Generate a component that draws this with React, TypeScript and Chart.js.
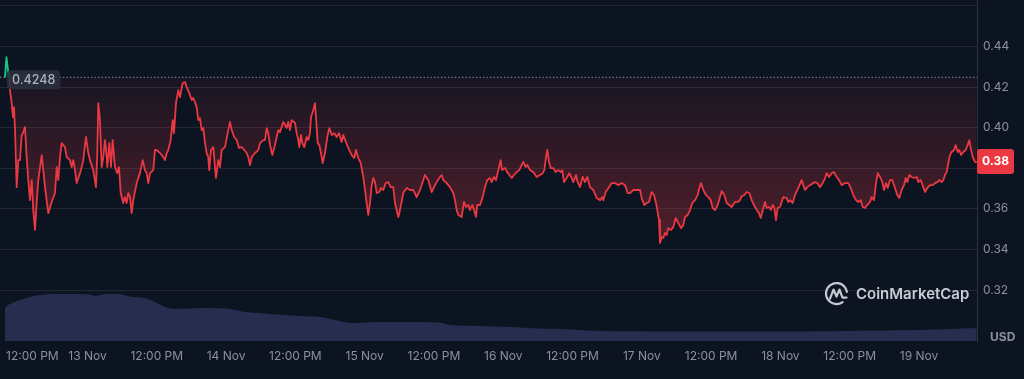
import React, { useEffect, useRef } from "react";
import { Chart, registerables } from "chart.js";

Chart.register(...registerables);

// ---- data (hours relative to 13 Nov 00:00) ----
const openPrice = 0.4248;

const hours = [
  -14.29, -14.03, -13.77, -13.51, -13.42, -13.13, -12.9, -12.73, -12.56, -12.26,
  -11.98, -11.69, -11.4, -11.17, -10.82, -10.53, -10.25, -9.96, -9.66, -9.39,
  -9.09, -8.8, -8.52, -7.93, -7.65, -7.36, -6.79, -6.2, -5.63, -5.33,
  -5.06, -4.76, -4.47, -3.9, -3.6, -3.03, -2.74, -2.46, -2.16, -1.87,
  -1.3, -1.0, -0.73, -0.26, 0.14, 0.43, 1.0, 1.47, 1.7, 1.87,
  2.16, 2.46, 2.74, 3.03, 3.33, 3.43, 3.78, 4.07, 4.36, 4.76,
  5.16, 5.46, 5.75, 6.2, 6.49, 6.79, 7.07, 7.36, 7.65, 7.93,
  8.52, 9.09, 9.56, 9.96, 10.25, 10.53, 10.82, 11.4, 11.69, 11.98,
  12.56, 13.13, 13.42, 13.72, 13.99, 14.41, 14.76, 14.98, 15.33, 15.73,
  16.02, 16.49, 16.89, 17.18, 17.63, 18.05, 18.32, 18.62, 18.91, 19.19,
  19.48, 19.78, 20.06, 20.35, 20.64, 20.92, 21.09, 21.39, 21.79, 22.08,
  22.25, 22.65, 22.95, 23.24, 23.81, 24.28, 24.68, 24.97, 25.42, 25.84,
  26.24, 26.71, 27.16, 27.57, 27.85, 28.14, 28.44, 29.01, 29.58, 29.88,
  30.45, 30.74, 31.04, 31.31, 31.61, 32.01, 32.47, 32.77, 33.04, 33.34,
  33.91, 34.2, 34.5, 34.78, 35.07, 35.37, 35.94, 36.23, 36.51, 36.68,
  36.98, 37.2, 37.55, 37.96, 38.24, 38.53, 38.71, 39.11, 39.4, 39.57,
  39.87, 40.15, 40.44, 40.73, 41.13, 41.53, 41.88, 42.29, 42.74, 43.16,
  43.56, 44.02, 44.3, 44.77, 45.17, 45.76, 46.21, 46.5, 46.9, 47.32,
  47.77, 48.06, 48.35, 48.63, 48.93, 49.22, 49.5, 49.79, 50.09, 50.54,
  50.83, 51.23, 51.64, 52.1, 52.51, 52.96, 53.26, 53.83, 54.12, 54.69,
  55.28, 55.85, 56.42, 57.01, 57.59, 58.16, 58.45, 59.02, 59.61, 60.01,
  60.48, 61.05, 61.34, 61.62, 62.21, 62.78, 63.35, 63.65, 63.94, 64.22,
  64.81, 65.21, 65.55, 65.95, 66.24, 66.64, 66.94, 67.28, 67.51, 67.98,
  68.44, 68.84, 69.24, 69.71, 70.0, 70.4, 70.75, 71.15, 71.56, 71.79,
  72.31, 72.7, 73.05, 73.47, 73.86, 74.33, 74.78, 75.2, 75.48, 75.89,
  76.17, 76.64, 77.21, 77.8, 78.37, 78.84, 79.11, 79.41, 79.63, 79.93,
  80.22, 80.67, 81.09, 81.54, 81.95, 82.23, 82.53, 82.99, 83.44, 83.86,
  84.13, 84.6, 84.9, 85.3, 85.76, 86.16, 86.56, 87.03, 87.6, 88.19,
  88.76, 89.16, 89.33, 89.75, 90.32, 90.79, 91.36, 91.93, 92.52, 93.09,
  93.56, 93.96, 94.53, 95.12, 95.69, 95.98, 96.43, 96.85, 97.25, 97.71,
  98.11, 98.46, 98.75, 98.98, 99.15, 99.45, 99.72, 100.02, 100.31, 100.59,
  101.06, 101.45, 101.87, 102.32, 102.79, 103.19, 103.48, 103.95, 104.35, 104.75,
  105.21, 105.68, 105.96, 106.25, 106.48, 106.82, 107.12, 107.52, 107.93, 108.28,
  108.68, 109.14, 109.54, 109.84, 110.29, 110.7, 111.15, 111.57, 112.14, 112.61,
  113.01, 113.3, 113.75, 114.17, 114.62, 115.03, 115.43, 115.9, 116.3, 116.59,
  116.87, 117.34, 117.63, 118.03, 118.38, 118.67, 118.95, 119.24, 119.53, 119.93,
  120.5, 121.09, 121.37, 121.67, 122.13, 122.53, 123.1, 123.69, 123.97, 124.26,
  124.66, 125.13, 125.7, 125.99, 126.39, 126.86, 127.33, 127.73, 128.02, 128.42,
  128.89, 129.28, 129.75, 130.15, 130.62, 131.19, 131.76, 132.18, 132.63, 133.1,
  133.49, 133.91, 134.26, 134.65, 135.05, 135.52, 135.81, 136.21, 136.56, 136.86,
  137.25, 137.65, 137.94, 138.29, 138.59, 138.98, 139.38, 139.85, 140.25, 140.59,
  141.01, 141.41, 141.7, 141.98, 142.33, 142.74, 143.14, 143.61, 143.89, 144.3,
  144.75, 145.05, 145.44, 145.91, 146.38, 146.78, 147.17, 147.52, 147.94, 148.22,
  148.51, 148.8, 149.08, 149.37, 149.67, 150.07, 150.36, 150.71, 150.99, 151.28,
  151.68, 152.09, 152.44, 152.72, 152.96, 153.31, 153.7, 154.0,
];

const prices = [
  0.4248, 0.4348, 0.4284, 0.4248, 0.4185, 0.4121, 0.4052, 0.4101, 0.4003, 0.3707,
  0.384, 0.384, 0.3964, 0.3973, 0.4003, 0.3855, 0.3742, 0.3643, 0.3742, 0.3594,
  0.3496, 0.3629, 0.3742, 0.3865, 0.3791, 0.3707, 0.3579, 0.3634, 0.3678, 0.3806,
  0.3742, 0.3855, 0.3924, 0.3904, 0.3855, 0.384, 0.3806, 0.384, 0.3791, 0.3727,
  0.3776, 0.3806, 0.384, 0.3954, 0.3875, 0.384, 0.3791, 0.3707, 0.3875, 0.4121,
  0.4037, 0.3806, 0.3855, 0.3939, 0.3855, 0.3806, 0.3924, 0.3806, 0.3939, 0.3806,
  0.3776, 0.3806, 0.3678, 0.3629, 0.3658, 0.3629, 0.3678, 0.3658, 0.3579, 0.3643,
  0.3727, 0.3776, 0.384, 0.3791, 0.3776, 0.3727, 0.3776, 0.3791, 0.389, 0.389,
  0.3875, 0.3855, 0.384, 0.3875, 0.389, 0.3939, 0.4037, 0.3973, 0.4121, 0.4185,
  0.4151, 0.422, 0.4225, 0.42, 0.417, 0.4136, 0.4146, 0.4126, 0.4101, 0.4037,
  0.4047, 0.3988, 0.3998, 0.3924, 0.3875, 0.3855, 0.3791, 0.389, 0.3904, 0.3806,
  0.3752, 0.384, 0.3806, 0.389, 0.3904, 0.3973, 0.4028, 0.3988, 0.3954, 0.3939,
  0.39, 0.3904, 0.389, 0.3875, 0.3855, 0.3816, 0.3855, 0.3875, 0.389, 0.3924,
  0.3939, 0.3939, 0.3998, 0.3973, 0.3914, 0.3865, 0.3914, 0.3954, 0.3988, 0.3978,
  0.4028, 0.4013, 0.3998, 0.4028, 0.3988, 0.4037, 0.4023, 0.3973, 0.3939, 0.3904,
  0.3964, 0.3924, 0.3904, 0.3954, 0.3939, 0.3973, 0.4052, 0.4087, 0.4121, 0.4052,
  0.3924, 0.3914, 0.3875, 0.3826, 0.3875, 0.3954, 0.3998, 0.3964, 0.3973, 0.3954,
  0.3973, 0.3929, 0.3964, 0.3929, 0.39, 0.3865, 0.385, 0.389, 0.385, 0.3826,
  0.3757, 0.3693, 0.3629, 0.357, 0.3629, 0.3717, 0.3752, 0.3732, 0.3678, 0.3683,
  0.3703, 0.3693, 0.3727, 0.3732, 0.3707, 0.3707, 0.3629, 0.356, 0.3594, 0.3678,
  0.3703, 0.3693, 0.3693, 0.3658, 0.3693, 0.3742, 0.3767, 0.3742, 0.3683, 0.3707,
  0.3732, 0.3757, 0.3767, 0.3742, 0.3727, 0.3707, 0.3678, 0.3643, 0.3594, 0.357,
  0.356, 0.3634, 0.3609, 0.3619, 0.3594, 0.3619, 0.3594, 0.356, 0.3619, 0.3619,
  0.3658, 0.3707, 0.3742, 0.3752, 0.3732, 0.3757, 0.3742, 0.3791, 0.384, 0.3791,
  0.3801, 0.3781, 0.3767, 0.3752, 0.3767, 0.3781, 0.3791, 0.3816, 0.3831, 0.3806,
  0.3816, 0.3791, 0.3781, 0.3757, 0.3767, 0.3776, 0.3791, 0.3855, 0.389, 0.3831,
  0.3801, 0.3801, 0.3781, 0.3791, 0.3781, 0.3791, 0.3732, 0.3752, 0.3776, 0.3752,
  0.3732, 0.3767, 0.3732, 0.3707, 0.3757, 0.3732, 0.3757, 0.3707, 0.3693, 0.3653,
  0.3643, 0.3658, 0.3643, 0.3683, 0.3707, 0.3727, 0.3727, 0.3717, 0.3727, 0.3717,
  0.3678, 0.3678, 0.3693, 0.3693, 0.3693, 0.3653, 0.3619, 0.3629, 0.3634, 0.3683,
  0.3668, 0.3629, 0.3584, 0.3545, 0.3432, 0.3461, 0.3456, 0.3481, 0.3471, 0.3505,
  0.3496, 0.351, 0.3555, 0.353, 0.3505, 0.352, 0.356, 0.357, 0.3594, 0.3629,
  0.3643, 0.3668, 0.3703, 0.3727, 0.3707, 0.3683, 0.3668, 0.3658, 0.3643, 0.3604,
  0.3594, 0.3619, 0.3658, 0.3688, 0.3668, 0.3629, 0.3619, 0.3609, 0.3634, 0.3634,
  0.3643, 0.3663, 0.3668, 0.3683, 0.3678, 0.3643, 0.3619, 0.3594, 0.3579, 0.3555,
  0.3584, 0.3634, 0.3604, 0.3609, 0.3594, 0.3619, 0.3604, 0.3545, 0.3604, 0.3609,
  0.3658, 0.3653, 0.3634, 0.3643, 0.3629, 0.3668, 0.3703, 0.3742, 0.3717, 0.3693,
  0.3707, 0.3717, 0.3727, 0.3732, 0.3727, 0.3707, 0.3727, 0.3752, 0.3776, 0.3757,
  0.3776, 0.3781, 0.3757, 0.3742, 0.3717, 0.3727, 0.3727, 0.3703, 0.3668, 0.3643,
  0.3634, 0.3643, 0.3609, 0.3604, 0.3619, 0.3634, 0.3658, 0.3643, 0.3727, 0.3776,
  0.3757, 0.3732, 0.3693, 0.3727, 0.3703, 0.3742, 0.3742, 0.3703, 0.3668, 0.3653,
  0.3693, 0.3717, 0.3752, 0.3732, 0.3767, 0.3757, 0.3752, 0.3757, 0.3732, 0.3742,
  0.3707, 0.3683, 0.3703, 0.3717, 0.3717, 0.3727, 0.3732, 0.3742, 0.3732, 0.3742,
  0.3767, 0.3781, 0.3826, 0.3865, 0.388, 0.389, 0.3914, 0.388, 0.389, 0.3865,
  0.388, 0.389, 0.3914, 0.3939, 0.39, 0.3855, 0.3831, 0.3831,
];

const volumeHours = [
  -14.29, -13.77, -11.69, -9.96, -8.23, -4.76, 0.43, 1.3, 3.03, 5.63,
  7.36, 9.96, 11.69, 13.42, 15.15, 19.48, 23.81, 25.55, 27.28, 31.61,
  36.8, 40.27, 42.87, 45.46, 49.79, 61.05, 62.78, 67.98, 73.17, 78.37,
  81.83, 88.76, 106.08, 123.4, 137.25, 144.18, 149.37, 154.0,
];
// volume (millions USD, approx.)
const volumes = [
  3.3, 3.6, 4.1, 4.4, 4.6, 4.7, 4.65, 4.5, 4.7, 4.7,
  4.45, 4.3, 3.9, 3.4, 3.2, 3.3, 3.25, 3.1, 2.9, 2.7,
  2.5, 2.4, 2.1, 1.8, 1.9, 1.85, 1.6, 1.5, 1.4, 1.25,
  1.2, 1.0, 0.95, 0.95, 1.05, 1.1, 1.2, 1.3,
];

const xTickHours = [-12, 0, 12, 24, 36, 48, 60, 72, 84, 96, 108, 120, 132, 144];
const xTickLabels = [
  "12:00 PM", "13 Nov", "12:00 PM", "14 Nov", "12:00 PM", "15 Nov", "12:00 PM",
  "16 Nov", "12:00 PM", "17 Nov", "12:00 PM", "18 Nov", "12:00 PM", "19 Nov",
];
const yTickValues = [0.32, 0.34, 0.36, 0.38, 0.4, 0.42, 0.44, 0.46];
const yTickLabels = ["0.32", "0.34", "0.36", "0.38", "0.40", "0.42", "0.44", ""];
const currentPriceLabel = "0.38";
const openPriceLabel = "0.4248";
const quoteCurrency = "USD";
const brandName = "CoinMarketCap";

// ---- styles ----
const BG = "#0d1421";
const RED = "#ea3943";
const GREEN = "#16c784";
const GRID = "rgba(255,255,255,0.085)";
const LABEL = "#8a91a1";
const FONT = 'Inter, "Noto Sans", sans-serif';

const overlayPlugin = {
  id: "cmcOverlay",
  beforeDatasetsDraw(chart: any) {
    const { ctx, chartArea, scales } = chart;
    const y = scales.y.getPixelForValue(openPrice);
    ctx.save();
    // dotted baseline at open price
    ctx.strokeStyle = "rgba(150,160,178,0.75)";
    ctx.lineWidth = 1.3;
    ctx.setLineDash([1.3, 2.2]);
    ctx.beginPath();
    ctx.moveTo(chartArea.left, y);
    ctx.lineTo(chartArea.right, y);
    ctx.stroke();
    ctx.setLineDash([]);

    // watermark
    const cx = chartArea.right - 140.5;
    const cy = scales.y.getPixelForValue(0.32) + 3.5;
    ctx.strokeStyle = "rgba(215,219,228,0.9)";
    ctx.lineWidth = 2.2;
    ctx.lineCap = "round";
    ctx.lineJoin = "round";
    ctx.beginPath();
    ctx.arc(cx, cy, 10.5, 0.3 * Math.PI, 1.95 * Math.PI);
    ctx.stroke();
    ctx.beginPath();
    ctx.moveTo(cx - 6.5, cy + 5);
    ctx.lineTo(cx - 3, cy - 4);
    ctx.lineTo(cx, cy + 3);
    ctx.lineTo(cx + 3, cy - 4);
    ctx.lineTo(cx + 6, cy + 4);
    ctx.lineTo(cx + 10, cy + 4);
    ctx.stroke();
    ctx.fillStyle = "rgba(215,219,228,0.92)";
    ctx.font = `600 15px ${FONT}`;
    ctx.textAlign = "left";
    ctx.textBaseline = "middle";
    ctx.fillText(brandName, cx + 19.5, cy + 0.5);
    ctx.restore();
  },
  afterDraw(chart: any) {
    const { ctx, chartArea, scales } = chart;
    ctx.save();
    // x tick labels
    ctx.font = `12px ${FONT}`;
    ctx.fillStyle = LABEL;
    ctx.textBaseline = "middle";
    ctx.textAlign = "center";
    xTickHours.forEach((h, i) => {
      const label = xTickLabels[i];
      const w = ctx.measureText(label).width;
      let px = scales.x.getPixelForValue(h);
      px = Math.max(px, chartArea.left + 6 + w / 2);
      ctx.fillText(label, px, chartArea.bottom + 15);
    });

    // open price label
    const by = scales.y.getPixelForValue(openPrice);
    ctx.font = `500 12.5px ${FONT}`;
    const tw = ctx.measureText(openPriceLabel).width;
    ctx.fillStyle = "rgba(42,48,62,0.9)";
    ctx.beginPath();
    (ctx as any).roundRect(chartArea.left + 7, by - 7, tw + 10, 19, 4);
    ctx.fill();
    ctx.fillStyle = "#aab1bf";
    ctx.textAlign = "left";
    ctx.fillText(openPriceLabel, chartArea.left + 12, by + 2.5);

    // current price badge
    const lastY = scales.y.getPixelForValue(prices[prices.length - 1]);
    ctx.fillStyle = RED;
    ctx.beginPath();
    (ctx as any).roundRect(chartArea.right, lastY - 13, 37, 25, 3);
    ctx.fill();
    ctx.fillStyle = "#ffffff";
    ctx.font = `bold 12px ${FONT}`;
    ctx.textAlign = "center";
    ctx.fillText(currentPriceLabel, chartArea.right + 18.5, lastY - 0.5);

    // currency label
    ctx.fillStyle = "#8a91a1";
    ctx.font = `bold 12px ${FONT}`;
    ctx.textAlign = "left";
    ctx.fillText(quoteCurrency, chartArea.right + 13, chartArea.bottom - 3.5);
    ctx.restore();
  },
};

export default function App() {
  const canvasRef = useRef<HTMLCanvasElement | null>(null);

  useEffect(() => {
    document.body.style.margin = "0";
    document.body.style.background = BG;
    const canvas = canvasRef.current;
    if (!canvas) return;

    const priceData = hours.map((h, i) => ({ x: h, y: prices[i] }));
    const volumeData = volumeHours.map((h, i) => ({ x: h, y: volumes[i] }));

    const chart = new Chart(canvas, {
      type: "line",
      data: {
        datasets: [
          {
            label: "Price",
            data: priceData,
            yAxisID: "y",
            borderColor: RED,
            borderWidth: 1.8,
            pointRadius: 0,
            tension: 0,
            borderJoinStyle: "round",
            fill: { value: openPrice, above: "rgba(22,199,132,0.18)" } as any,
            backgroundColor: (c: any) => {
              const { chart: ch } = c;
              const area = ch.chartArea;
              if (!area) return "rgba(234,57,67,0.12)";
              const ys = ch.scales.y;
              const g = ch.ctx.createLinearGradient(
                0,
                ys.getPixelForValue(openPrice),
                0,
                ys.getPixelForValue(0.34)
              );
              g.addColorStop(0, "rgba(234,57,67,0.05)");
              g.addColorStop(1, "rgba(234,57,67,0.32)");
              return g;
            },
            segment: {
              borderColor: (s: any) =>
                s.p0.parsed.y > openPrice + 1e-9 || s.p1.parsed.y > openPrice + 1e-9
                  ? GREEN
                  : RED,
            },
            order: 1,
          } as any,
          {
            label: "Volume",
            data: volumeData,
            yAxisID: "vol",
            borderWidth: 0,
            borderColor: "rgba(0,0,0,0)",
            backgroundColor: "#262d4e",
            fill: "origin",
            pointRadius: 0,
            tension: 0.3,
            order: 2,
          } as any,
        ],
      },
      options: {
        animation: false,
        responsive: false,
        maintainAspectRatio: false,
        events: [],
        layout: { padding: { left: 0, top: 0, right: 0, bottom: 38 } },
        plugins: {
          legend: { display: false },
          tooltip: { enabled: false },
        },
        scales: {
          x: {
            type: "linear",
            display: false,
            min: -15.15,
            max: 154.05,
          },
          y: {
            type: "linear",
            position: "right",
            min: 0.2949,
            max: 0.4629,
            afterBuildTicks: (scale: any) => {
              scale.ticks = yTickValues.map((v) => ({ value: v }));
            },
            afterFit: (scale: any) => {
              scale.width = 47;
              scale.paddingTop = 0;
              scale.paddingBottom = 0;
            },
            grid: { color: GRID, drawTicks: false, lineWidth: 1 },
            border: { display: true, color: "rgba(255,255,255,0.13)" },
            ticks: {
              color: LABEL,
              padding: 6,
              font: { size: 12, family: FONT },
              callback: (v: any) => {
                const i = yTickValues.findIndex((t) => Math.abs(t - Number(v)) < 1e-6);
                return i >= 0 ? yTickLabels[i] : "";
              },
            },
          },
          vol: {
            type: "linear",
            display: false,
            min: 0,
            max: 34.1,
          },
        },
      } as any,
      plugins: [overlayPlugin],
    });

    return () => chart.destroy();
  }, []);

  return (
    <div
      style={{
        position: "fixed",
        left: 0,
        top: 0,
        width: 1024,
        height: 379,
        background: BG,
      }}
    >
      <canvas ref={canvasRef} width={1024} height={379} />
    </div>
  );
}
